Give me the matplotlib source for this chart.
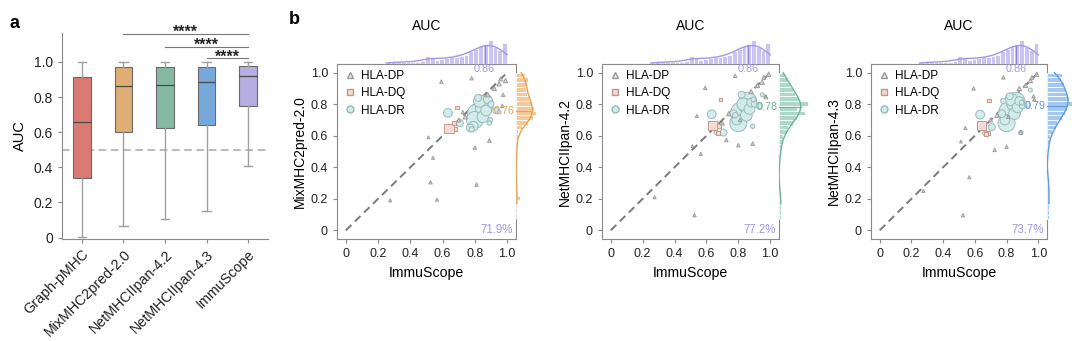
import numpy as np
import matplotlib
matplotlib.use('Agg')
import matplotlib.pyplot as plt
from matplotlib.lines import Line2D

plt.rcParams['font.family'] = ['Liberation Sans', 'DejaVu Sans']

# ---------------- Panel a data ----------------
models = ['Graph-pMHC', 'MixMHC2pred-2.0', 'NetMHCIIpan-4.2', 'NetMHCIIpan-4.3', 'ImmuScope']
box_whislo = [0.005, 0.066, 0.108, 0.15, 0.406]
box_q1 = [0.34, 0.60, 0.624, 0.64, 0.748]
box_med = [0.657, 0.863, 0.869, 0.884, 0.92]
box_q3 = [0.913, 0.97, 0.97, 0.97, 0.977]
box_whishi = [1.0, 1.0, 1.0, 1.0, 1.0]
box_colors = ['#d97b72', '#dfae75', '#86b9a4', '#76a8dc', '#b6aee0']
sig_from = [1, 2, 3]
sig_to = [4, 4, 4]
sig_y = [1.16, 1.088, 1.02]
sig_text = ['****', '****', '****']

# ---------------- Panel b data ----------------
x_immuscope = [0.275, 0.525, 0.565, 0.54, 0.512, 0.592, 0.633, 0.64, 0.69, 0.66,
               0.707, 0.725, 0.78, 0.80, 0.81, 0.89, 0.975, 0.99, 0.815, 0.80,
               0.86, 0.845, 0.83, 0.87, 0.79, 0.85, 0.88, 0.77, 0.90, 0.82,
               0.92, 0.95, 0.88, 0.96, 0.74, 0.70, 0.93, 0.95, 0.68, 0.89,
               0.78, 0.895, 0.97, 0.67]
y_mixmhc = [0.19, 0.305, 0.195, 0.46, 0.59, 0.943, 0.745, 0.645, 0.78, 0.66,
            0.68, 0.75, 0.965, 0.525, 0.29, 0.57, 0.86, 0.95, 0.74, 0.70,
            0.80, 0.78, 0.82, 0.76, 0.66, 0.72, 0.83, 0.65, 0.80, 0.84,
            0.90, 0.93, 0.86, 0.96, 0.72, 0.70, 0.76, 0.75, 0.64, 0.68,
            0.64, 0.70, 0.79, 0.68]
y_net42 = [0.21, 0.096, 0.485, 0.726, 0.535, 0.904, 0.736, 0.665, 0.83, 0.62,
           0.62, 0.573, 0.98, 0.54, 0.70, 0.55, 0.845, 0.99, 0.75, 0.68,
           0.82, 0.79, 0.80, 0.77, 0.70, 0.73, 0.81, 0.74, 0.80, 0.86,
           0.92, 0.94, 0.88, 0.97, 0.74, 0.68, 0.79, 0.86, 0.66, 0.66,
           0.73, 0.83, 0.85, 0.62]
y_net43 = [0.25, 0.096, 0.337, 0.65, 0.563, 0.90, 0.734, 0.667, 0.824, 0.615,
           0.655, 0.51, 0.97, 0.53, 0.72, 0.62, 0.83, 0.99, 0.755, 0.68,
           0.82, 0.80, 0.83, 0.78, 0.70, 0.74, 0.82, 0.74, 0.79, 0.85,
           0.92, 0.95, 0.90, 0.97, 0.73, 0.70, 0.80, 0.89, 0.62, 0.62,
           0.82, 0.81, 0.85, 0.61]
hla_type = ['DP', 'DP', 'DP', 'DP', 'DP', 'DP', 'DR', 'DQ', 'DQ', 'DR',
            'DR', 'DP', 'DP', 'DP', 'DP', 'DP', 'DP', 'DP', 'DR', 'DR',
            'DR', 'DR', 'DR', 'DR', 'DR', 'DR', 'DR', 'DR', 'DR', 'DR',
            'DP', 'DP', 'DP', 'DP', 'DP', 'DP', 'DR', 'DR', 'DQ', 'DR',
            'DR', 'DR', 'DP', 'DQ']
point_size = [5, 6, 5, 5, 4, 6, 40, 45, 6, 8,
              25, 6, 6, 6, 6, 7, 6, 10, 200, 150,
              160, 100, 80, 60, 50, 70, 40, 30, 20, 25,
              10, 10, 10, 8, 10, 8, 20, 8, 8, 10,
              15, 12, 6, 8]

top_hist_edges = [0.25, 0.28, 0.31, 0.34, 0.37, 0.40, 0.43, 0.46, 0.49, 0.52, 0.55, 0.58, 0.61,
                  0.64, 0.67, 0.70, 0.73, 0.76, 0.79, 0.82, 0.85, 0.88, 0.91, 0.94, 0.97, 1.00]
top_hist_counts = [2, 2, 2, 2, 2, 2, 2, 3, 8, 7, 4, 5, 6, 7, 7, 8, 9, 13, 15, 18, 20, 24, 17, 14, 21]

right_hist_edges = [0.07, 0.10, 0.13, 0.16, 0.19, 0.22, 0.25, 0.28, 0.31, 0.34, 0.37, 0.40, 0.43,
                    0.46, 0.49, 0.52, 0.55, 0.58, 0.61, 0.64, 0.67, 0.70, 0.73, 0.76, 0.79, 0.82,
                    0.85, 0.88, 0.91, 0.94, 0.97, 1.00]
right_counts_mix = [0, 0, 0, 0, 4, 0, 0, 1, 0, 0, 0, 0, 1, 1, 0, 1, 1, 2, 2, 6, 12, 17, 20, 18, 16, 13,
                    11, 10, 11, 12, 9]
right_counts_n42 = [2, 2, 2, 2, 2, 2, 0, 0, 0, 0, 0, 0, 1, 1, 2, 2, 3, 4, 8, 9, 14, 18, 26, 18, 29, 20,
                    16, 14, 11, 9, 6]
right_counts_n43 = [2, 2, 2, 2, 2, 2, 2, 2, 2, 0, 0, 0, 0, 1, 1, 2, 2, 3, 5, 9, 10, 15, 18, 20, 25, 22,
                    20, 18, 17, 14, 15]

comp_names = ['MixMHC2pred-2.0', 'NetMHCIIpan-4.2', 'NetMHCIIpan-4.3']
comp_y = [y_mixmhc, y_net42, y_net43]
comp_counts = [right_counts_mix, right_counts_n42, right_counts_n43]
comp_median = [0.76, 0.78, 0.79]
comp_pct = ['71.9%', '77.2%', '73.7%']
immu_median = 0.86
comp_bar_col = ['#f4c99a', '#acd9c8', '#a4c8ee']
comp_line_col = ['#e2a458', '#6cb497', '#5d9de0']
immu_bar_col = '#cbc3f2'
immu_line_col = '#a497e4'

W, H = 1080, 341
fig = plt.figure(figsize=(W / 100, H / 100), dpi=100)


def px_axes(l, t, r, b):
    return fig.add_axes([l / W, 1 - b / H, (r - l) / W, (b - t) / H])


def wkde(centers, counts, grid, bw, width):
    centers = np.asarray(centers)
    counts = np.asarray(counts, float)
    d = np.zeros_like(grid)
    for c, n in zip(centers, counts):
        d += n * np.exp(-0.5 * ((grid - c) / bw) ** 2) / (bw * np.sqrt(2 * np.pi))
    return d * width


spine_col = '#8a8a8a'
txt_col = '#222222'

# ---------------- Panel a ----------------
ax = px_axes(62, 33, 268, 239)
stats = []
for i, m in enumerate(models):
    stats.append(dict(whislo=box_whislo[i], q1=box_q1[i], med=box_med[i], q3=box_q3[i],
                      whishi=box_whishi[i], label=m))
bp = ax.bxp(stats, positions=range(len(models)), widths=0.42, patch_artist=True,
            showfliers=False,
            boxprops=dict(linewidth=0.8, edgecolor='#6a6a6a'),
            medianprops=dict(color='#4a4a4a', linewidth=0.9),
            whiskerprops=dict(color='#a0a0a0', linewidth=1.0),
            capprops=dict(color='#a0a0a0', linewidth=1.0))
for patch, c in zip(bp['boxes'], box_colors):
    patch.set_facecolor(c)
ax.axhline(0.5, color='#a8a8a8', ls=(0, (5, 3)), lw=1.1, zorder=0)
ax.set_xlim(-0.48, 4.48)
ax.set_ylim(-0.008, 1.165)
ax.set_yticks([0, 0.2, 0.4, 0.6, 0.8, 1.0])
ax.set_yticklabels(['0', '0.2', '0.4', '0.6', '0.8', '1.0'])
ax.set_xticks(range(len(models)))
ax.set_xticklabels(models, rotation=45, ha='right', rotation_mode='anchor', fontsize=10.3)
ax.set_ylabel('AUC', fontsize=10.5, labelpad=5)
for s in ['top', 'right']:
    ax.spines[s].set_visible(False)
for s in ['left', 'bottom']:
    ax.spines[s].set_color(spine_col)
    ax.spines[s].set_linewidth(0.8)
ax.tick_params(axis='y', labelsize=10, labelcolor=txt_col, length=3, width=0.8, color=spine_col)
ax.tick_params(axis='x', labelcolor=txt_col, length=3, width=0.8, color=spine_col, pad=3)
for a_, b_, y_, t_ in zip(sig_from, sig_to, sig_y, sig_text):
    ax.plot([a_, b_], [y_, y_], color='#777777', lw=0.8, clip_on=False)
    ax.text((a_ + b_) / 2, y_ - 0.018, t_, ha='center', va='baseline', fontsize=11.5,
            fontweight='bold', color=txt_col)
fig.text(10 / W, 1 - 23 / H, 'a', fontsize=13, fontweight='bold', va='center')
fig.text(289 / W, 1 - 19 / H, 'b', fontsize=13, fontweight='bold', va='center')

# ---------------- Panel b ----------------
styles = {'DP': dict(marker='^', facecolors='#d4d4d4', edgecolors='#9a9a9a'),
          'DQ': dict(marker='s', facecolors='#f3dbd3', edgecolors='#c39488'),
          'DR': dict(marker='o', facecolors='#d2ebeb', edgecolors='#97b8b5')}

panel_px = [(337, 516), (602, 779), (871, 1047)]
lims = (-0.055, 1.055)
top_centers = [(a + b) / 2 for a, b in zip(top_hist_edges[:-1], top_hist_edges[1:])]
right_centers = [(a + b) / 2 for a, b in zip(right_hist_edges[:-1], right_hist_edges[1:])]

for k, (l, r) in enumerate(panel_px):
    axm = px_axes(l, 64, r, 239)
    axt = px_axes(l, 34, r, 64)
    axr = px_axes(r, 64, r + 32, 239)

    # main scatter
    axm.plot([0, 1], [0, 1], color='#7a7a7a', ls=(0, (4, 2.5)), lw=1.4, zorder=1)
    xs = np.array(x_immuscope)
    ys = np.array(comp_y[k])
    ss = np.array(point_size)
    types = np.array(hla_type)
    order = np.argsort(-ss)
    for t in ['DR', 'DQ', 'DP']:
        idx = [i for i in order if types[i] == t]
        axm.scatter(xs[idx], ys[idx], s=ss[idx], linewidths=0.7, zorder=2, alpha=0.95,
                    **styles[t])
    axm.set_xlim(*lims)
    axm.set_ylim(*lims)
    ticks = [0, 0.2, 0.4, 0.6, 0.8, 1.0]
    tl = ['0', '0.2', '0.4', '0.6', '0.8', '1.0']
    axm.set_xticks(ticks)
    axm.set_xticklabels(tl)
    axm.set_yticks(ticks)
    axm.set_yticklabels(tl)
    axm.tick_params(labelsize=9, labelcolor=txt_col, length=3, width=0.8, color=spine_col)
    for s in axm.spines.values():
        s.set_color(spine_col)
        s.set_linewidth(0.8)
    axm.set_xlabel('ImmuScope', fontsize=10.2, labelpad=4)
    axm.set_ylabel(comp_names[k], fontsize=10, labelpad=3)
    axm.text(immu_median, 1.025, f'{immu_median:.2f}', color=immu_line_col, fontsize=7.8,
             ha='center', va='center')
    axm.text(1.045, comp_median[k], f'{comp_median[k]:.2f}', color=comp_line_col[k],
             fontsize=7.8, ha='right', va='center')
    axm.text(1.035, 0.0, comp_pct[k], color=immu_line_col, fontsize=8.3, ha='right',
             va='center')
    handles = [Line2D([], [], ls='none', marker='^', mfc='#e6e6e6', mec='#9a9a9a', ms=5),
               Line2D([], [], ls='none', marker='s', mfc='#f3dbd3', mec='#c39488', ms=5),
               Line2D([], [], ls='none', marker='o', mfc='#d2ebeb', mec='#97b8b5', ms=5)]
    axm.legend(handles, ['HLA-DP', 'HLA-DQ', 'HLA-DR'], loc='upper left', frameon=False,
               fontsize=8.5, handletextpad=0.3, borderaxespad=0.2, labelspacing=0.45,
               handlelength=1.2, borderpad=0.3)

    # top marginal
    widths = np.diff(top_hist_edges)
    axt.bar(top_hist_edges[:-1], top_hist_counts, width=widths, align='edge',
            color=immu_bar_col, edgecolor='white', linewidth=0.6)
    g = np.linspace(top_hist_edges[0], top_hist_edges[-1], 200)
    d = wkde(top_centers, top_hist_counts, g, 0.055, 0.03)
    axt.plot(g, d, color=immu_line_col, lw=1.0)
    dm = wkde(top_centers, top_hist_counts, np.array([immu_median]), 0.055, 0.03)[0]
    axt.plot([immu_median, immu_median], [0, dm], color='#8f82d8', lw=0.8)
    axt.set_xlim(*lims)
    axt.set_ylim(0, 30)
    axt.axis('off')

    # right marginal
    counts = comp_counts[k]
    heights = np.diff(right_hist_edges)
    axr.barh(right_hist_edges[:-1], counts, height=heights, align='edge',
             color=comp_bar_col[k], edgecolor='white', linewidth=0.6)
    g2 = np.linspace(0.17, right_hist_edges[-1], 200)
    d2 = wkde(right_centers, counts, g2, 0.05, 0.03)
    axr.plot(d2, g2, color=comp_line_col[k], lw=1.0)
    dm2 = wkde(right_centers, counts, np.array([comp_median[k]]), 0.05, 0.03)[0]
    axr.plot([0, dm2], [comp_median[k], comp_median[k]], color=comp_line_col[k], lw=0.8)
    axr.set_ylim(*lims)
    axr.set_xlim(0, 32)
    axr.axis('off')

    fig.text((l + r) / 2 / W, 1 - 26 / H, 'AUC', fontsize=10, ha='center', va='center')

fig.savefig('out.png', dpi=100)
